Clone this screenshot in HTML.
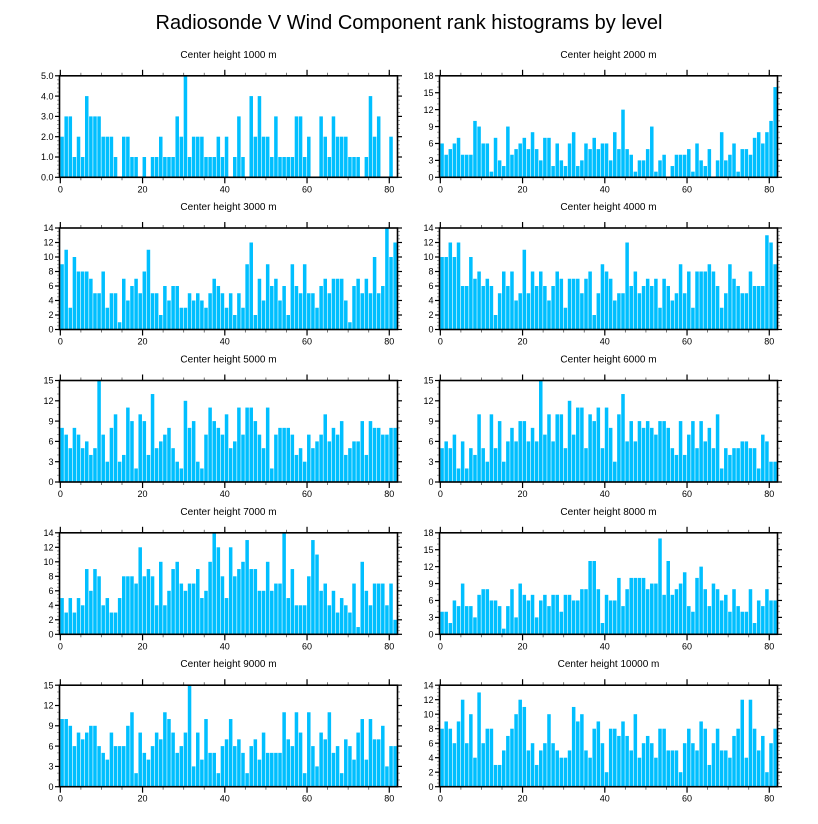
<!DOCTYPE html>
<html><head><meta charset="utf-8">
<style>
html,body{margin:0;padding:0;background:#fff;}
svg{display:block;font-family:"Liberation Sans",Arial,sans-serif;}
</style></head>
<body>
<svg id="chart" width="818" height="824" viewBox="0 0 818 824" xmlns="http://www.w3.org/2000/svg">
<text x="409" y="29" text-anchor="middle" font-size="20" fill="#000">Radiosonde V Wind Component rank histograms by level</text>
</svg>
<script>
const levels = ["1000","2000","3000","4000","5000","6000","7000","8000","9000","10000"];
const v1000 = [2,3,3,1,2,1,4,3,3,3,2,2,2,1,0,2,2,1,1,0,1,0,1,1,2,1,1,1,3,2,5,1,2,2,2,1,1,1,2,1,2,0,1,3,1,0,4,2,4,2,2,1,3,1,1,1,1,3,3,1,2,0,0,3,2,1,3,2,2,2,1,1,1,0,1,4,2,3,0,0,2,0];
const v2000 = [6,4,5,6,7,4,4,4,10,9,6,6,1,7,3,2,9,4,5,6,7,5,8,5,3,7,7,2,6,3,2,6,8,2,3,6,5,7,5,6,6,3,8,5,12,5,4,1,3,3,5,9,1,3,4,0,2,4,4,4,5,1,6,3,2,5,0,3,8,3,4,6,1,5,5,4,7,8,6,8,10,16];
const v3000 = [9,11,3,10,8,8,8,7,5,5,8,3,5,5,1,7,4,6,7,5,8,11,5,5,2,6,4,6,6,3,3,5,4,5,4,3,5,7,6,5,3,5,2,5,3,9,12,2,7,4,9,6,7,4,6,2,9,6,5,9,5,5,3,6,7,5,7,7,7,4,1,6,7,5,7,5,10,5,6,14,10,12];
const v4000 = [10,10,12,10,12,6,6,10,7,8,6,7,6,2,5,8,6,8,4,5,11,5,8,6,8,6,4,6,8,7,3,7,7,7,5,7,8,2,5,9,8,7,4,5,5,12,6,8,5,6,7,6,7,3,7,6,4,5,9,5,8,3,8,8,8,9,8,6,3,5,9,7,6,5,5,8,6,6,6,13,12,9];
const v5000 = [8,7,5,8,7,5,6,4,5,15,7,3,8,10,3,4,11,9,2,10,9,4,13,5,6,7,8,5,3,2,12,8,9,3,2,7,11,9,8,7,10,5,6,11,7,11,11,9,7,5,11,2,7,8,8,8,7,4,5,3,7,5,6,7,10,6,8,7,9,4,5,6,6,9,4,9,8,8,7,7,8,8];
const v6000 = [5,6,5,7,2,6,2,5,4,10,5,3,10,5,9,3,6,8,6,9,9,6,8,6,15,7,10,6,10,10,5,12,7,11,11,5,10,9,11,5,11,8,3,10,13,6,9,6,9,8,9,8,7,9,9,8,5,4,9,4,7,9,5,9,6,8,5,10,2,5,4,5,5,6,6,5,5,2,7,6,3,3];
const v7000 = [5,3,5,3,5,4,9,6,9,8,4,5,3,3,5,8,8,8,7,12,8,9,8,4,10,4,6,9,10,7,6,7,7,9,5,6,10,14,12,8,5,12,8,9,10,13,9,9,6,6,10,6,7,7,14,5,9,4,4,4,8,13,11,6,7,4,6,3,5,4,3,7,1,10,6,4,7,7,7,4,7,2];
const v8000 = [4,4,2,6,5,9,5,5,3,7,8,8,6,6,5,1,5,8,3,9,7,6,7,3,6,7,5,7,7,4,7,7,6,6,8,8,13,13,8,2,7,6,6,10,5,8,10,10,10,10,8,9,9,17,7,13,7,8,9,11,5,4,10,12,8,5,9,8,6,7,4,8,5,4,4,8,2,6,5,8,6,6];
const v9000 = [10,10,9,6,8,7,8,9,9,6,5,4,8,6,6,6,9,11,2,8,5,4,6,8,7,11,10,8,5,6,8,15,3,8,4,10,5,5,2,6,7,10,6,7,5,2,6,7,4,8,5,5,5,5,11,7,6,11,8,2,11,6,3,8,7,11,5,6,2,7,6,4,8,10,4,10,7,7,9,3,6,6];
const v10000 = [8,9,8,6,9,12,6,10,4,13,6,8,8,3,3,5,7,8,10,12,11,5,6,3,5,6,10,6,5,4,4,5,11,9,10,5,4,8,9,6,2,8,8,7,9,7,5,10,4,6,7,6,4,8,8,5,5,5,2,6,8,6,5,9,8,3,6,8,5,5,4,7,8,12,4,12,8,5,7,2,6,8];
const yMaxes = [5,18,14,14,15,15,14,18,15,14];
const yMajorSteps = [1,3,2,2,3,3,2,3,3,2];
const yMinorSteps = [0.2,1,0.5,0.5,1,1,0.5,1,1,0.5];
const xTickLabels = [0,20,40,60,80];
const allValues = [v1000,v2000,v3000,v4000,v5000,v6000,v7000,v8000,v9000,v10000];

const NS = "http://www.w3.org/2000/svg";
const svg = document.getElementById("chart");
function mk(tag, attrs, parent){
  const e = document.createElementNS(NS, tag);
  for (const k in attrs) e.setAttribute(k, attrs[k]);
  (parent||svg).appendChild(e);
  return e;
}
const colLeft = [59.5, 439.5];
const plotW = 338, plotH = 101.5;
const rowTop = [75.8, 228, 380.5, 532.8, 685.2];
const XMIN = -0.2, XMAX = 82;

for (let p = 0; p < 10; p++) {
  const vals = allValues[p];
  const L = colLeft[p % 2], T = rowTop[Math.floor(p / 2)];
  const B = T + plotH, R = L + plotW;
  const ymax = yMaxes[p];
  const xs = v => L + (v - XMIN) / (XMAX - XMIN) * plotW;
  const ys = v => B - v / ymax * plotH;
  const g = mk("g", {});
  
  

  const title = mk("text", {x: (L + R) / 2, y: T - 18, "text-anchor": "middle", "font-size": "10", fill: "#000"}, g);
  title.textContent = "Center height " + levels[p] + " m";
  
  

  for (let i = 0; i < vals.length; i++) {
    if (vals[i] <= 0) continue;
    const x0 = xs(i), x1 = xs(i + 1);
    const r = mk("rect", {x: x0, y: ys(vals[i]), width: Math.max(0.5, x1 - x0 - 0.6), height: B - ys(vals[i]), fill: "#00BFFF"}, g);
    
    
  }

  // y minor ticks
  for (let v = 0; v <= ymax + 1e-9; v += yMinorSteps[p]) {
    const y = ys(v);
    mk("line", {x1: L - 2.5, x2: L, y1: y, y2: y, stroke: "#888", "stroke-width": 0.8}, g);
    mk("line", {x1: R, x2: R + 2.5, y1: y, y2: y, stroke: "#888", "stroke-width": 0.8}, g);
  }
  // y major ticks + labels
  for (let v = 0; v <= ymax + 1e-9; v += yMajorSteps[p]) {
    const y = ys(v);
    mk("line", {x1: L - 4.5, x2: L, y1: y, y2: y, stroke: "#000", "stroke-width": 1.2}, g);
    mk("line", {x1: R, x2: R + 4.5, y1: y, y2: y, stroke: "#000", "stroke-width": 1.2}, g);
    const t = mk("text", {x: L - 6, y: y + 3.2, "text-anchor": "end", "font-size": "9", fill: "#000"}, g);
    t.textContent = p === 0 ? v.toFixed(1) : String(v);
    
    
  }
  // x minor ticks
  for (let v = 0; v <= 80; v += 5) {
    const x = xs(v);
    mk("line", {x1: x, x2: x, y1: B, y2: B + 3, stroke: "#555", "stroke-width": 0.8}, g);
    mk("line", {x1: x, x2: x, y1: T - 3, y2: T, stroke: "#555", "stroke-width": 0.8}, g);
  }
  for (const v of xTickLabels) {
    const x = xs(v);
    mk("line", {x1: x, x2: x, y1: B, y2: B + 6, stroke: "#000", "stroke-width": 1.2}, g);
    mk("line", {x1: x, x2: x, y1: T - 6, y2: T, stroke: "#000", "stroke-width": 1.2}, g);
    const t = mk("text", {x: x, y: B + 15, "text-anchor": "middle", "font-size": "9", fill: "#000"}, g);
    t.textContent = String(v);
    
    
  }
  const frame = mk("rect", {x: L, y: T, width: plotW, height: plotH, fill: "none", stroke: "#000", "stroke-width": 1.6}, g);
  
  
}
</script>
</body></html>
